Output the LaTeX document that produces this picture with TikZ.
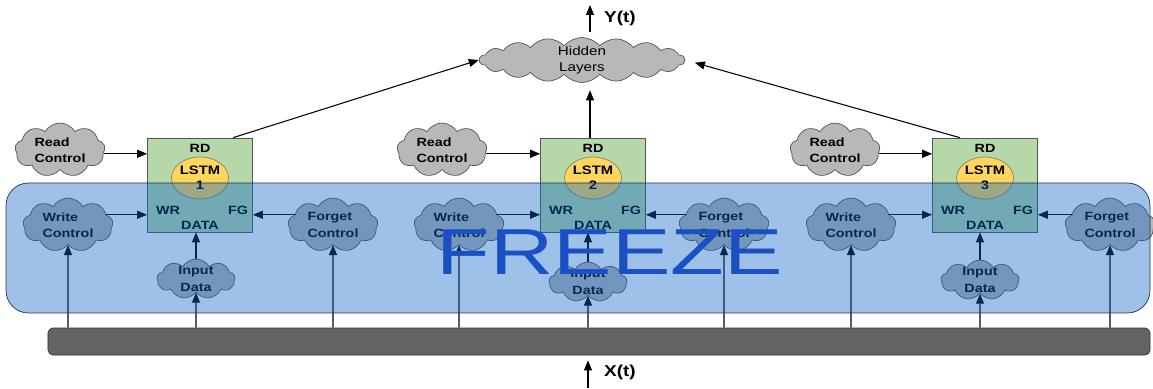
\documentclass[tikz,border=0pt]{standalone}
\usepackage{fontspec}
\setmainfont[FakeStretch=1.2]{Liberation Sans}
\newfontfamily\freezefont[FakeStretch=1.35]{Liberation Sans}
\usetikzlibrary{positioning,arrows.meta,calc,shapes.symbols,shapes.geometric}
\definecolor{CloudGray}{RGB}{184,184,184}
\definecolor{CloudEdge}{RGB}{85,85,85}
\definecolor{BoxGreen}{RGB}{182,215,168}
\definecolor{CoreYellow}{RGB}{255,214,92}
\definecolor{BusGray}{RGB}{100,100,100}
\definecolor{BandBlue}{RGB}{10,100,200}
\definecolor{BandEdge}{RGB}{40,50,70}
\definecolor{FreezeBlue}{RGB}{26,80,196}
\tikzset{
  flow/.style={-{Triangle[length=2mm,width=1.6mm]},semithick,draw=black},
  ctrl/.style={cloud,cloud puffs=9,cloud puff arc=120,cloud ignores aspect,
    draw=CloudEdge,fill=CloudGray,inner sep=-1pt,align=left,
    minimum width=1.8cm,minimum height=1.08cm,
    font=\fontsize{6.8}{9.2}\selectfont\bfseries},
  datacloud/.style={ctrl,align=center,inner sep=-3pt,
    minimum width=1.56cm,minimum height=0.8cm},
  hidden/.style={ctrl,align=center,cloud puffs=18,cloud puff arc=100,
    inner sep=-2pt,minimum width=4.1cm,minimum height=0.9cm,
    font=\fontsize{7.2}{9.4}\selectfont},
  lstmbox/.style={draw=CloudEdge,fill=BoxGreen,minimum width=2.1cm,
    minimum height=1.88cm},
  core/.style={ellipse,draw=gray,fill=CoreYellow,minimum width=1.14cm,
    minimum height=0.84cm,inner sep=0pt,align=center,
    font=\fontsize{7}{8.5}\selectfont\bfseries},
  tag/.style={inner sep=0pt,font=\fontsize{6.8}{8}\selectfont\bfseries},
  bus/.style={draw=black!80,fill=BusGray,rounded corners=1mm,
    minimum width=22.04cm,minimum height=0.54cm},
  band/.style={draw=BandEdge,fill=BandBlue,fill opacity=0.4,
    rounded corners=4.5mm},
  freeze/.style={inner sep=0pt,text=FreezeBlue,
    font=\freezefont\fontsize{37}{37}\selectfont},
  iolabel/.style={inner sep=0pt,font=\fontsize{9}{10}\selectfont\bfseries}
}
\begin{document}
\begin{tikzpicture}[x=0.2mm,y=-0.2mm]
  \useasboundingbox (0,0) rectangle (1153,389);

  % input bus
  \node[bus] (bus) at (599,341.5) {};
  \coordinate (xin) at (588,388);
  \node[iolabel] (xlab) at (620,372) {X(t)};
  \draw[flow,shorten >=1mm] (xin) -- (xin |- bus.south);

  % unit 1
  \node[lstmbox] (box1) at (200,185) {};
  \node[core] (core1) at (200,178) {LSTM\\1};
  \node[tag] (rd1) at (200,148) {RD};
  \node[tag] (wr1) at (168,210) {WR};
  \node[tag] (fg1) at (238,210) {FG};
  \node[tag] (data1) at (200,225) {DATA};
  \node[ctrl] (rc1) at (60,150) {Read\\Control};
  \node[ctrl] (wc1) at (68,225) {Write\\Control};
  \node[ctrl] (fc1) at (333,225) {Forget\\Control};
  \node[datacloud] (in1) at (196,279) {Input\\Data};
  \draw[flow] (rc1.-5) -- (rc1.-5 -| box1.west);
  \draw[flow] (wc1.15) -- (wc1.15 -| box1.west);
  \draw[flow] (fc1.165) -- (fc1.165 -| box1.east);
  \draw[flow] (in1.north) -- (in1.north |- box1.south);
  \draw[flow] (wc1 |- bus.north) -- (wc1.south);
  \draw[flow] (in1 |- bus.north) -- (in1.south);
  \draw[flow] (fc1 |- bus.north) -- (fc1.south);

  % unit 2
  \node[lstmbox] (box2) at (593,185) {};
  \node[core] (core2) at (593,178) {LSTM\\2};
  \node[tag] (rd2) at (593,148) {RD};
  \node[tag] (wr2) at (561,210) {WR};
  \node[tag] (fg2) at (631,210) {FG};
  \node[tag] (data2) at (593,225) {DATA};
  \node[ctrl] (rc2) at (442,150) {Read\\Control};
  \node[ctrl] (wc2) at (459,225) {Write\\Control};
  \node[ctrl] (fc2) at (724,225) {Forget\\Control};
  \node[datacloud] (in2) at (588,282) {Input\\Data};
  \draw[flow] (rc2.-5) -- (rc2.-5 -| box2.west);
  \draw[flow] (wc2.15) -- (wc2.15 -| box2.west);
  \draw[flow] (fc2.165) -- (fc2.165 -| box2.east);
  \draw[flow] (in2.north) -- (in2.north |- box2.south);
  \draw[flow] (wc2 |- bus.north) -- (wc2.south);
  \draw[flow] (in2 |- bus.north) -- (in2.south);
  \draw[flow] (fc2 |- bus.north) -- (fc2.south);

  % unit 3
  \node[lstmbox] (box3) at (985,185) {};
  \node[core] (core3) at (985,178) {LSTM\\3};
  \node[tag] (rd3) at (985,148) {RD};
  \node[tag] (wr3) at (953,210) {WR};
  \node[tag] (fg3) at (1023,210) {FG};
  \node[tag] (data3) at (985,225) {DATA};
  \node[ctrl] (rc3) at (835,150) {Read\\Control};
  \node[ctrl] (wc3) at (851,225) {Write\\Control};
  \node[ctrl] (fc3) at (1110,225) {Forget\\Control};
  \node[datacloud] (in3) at (980,280) {Input\\Data};
  \draw[flow] (rc3.-5) -- (rc3.-5 -| box3.west);
  \draw[flow] (wc3.15) -- (wc3.15 -| box3.west);
  \draw[flow] (fc3.165) -- (fc3.165 -| box3.east);
  \draw[flow] (in3.north) -- (in3.north |- box3.south);
  \draw[flow] (wc3 |- bus.north) -- (wc3.south);
  \draw[flow] (in3 |- bus.north) -- (in3.south);
  \draw[flow] (fc3 |- bus.north) -- (fc3.south);

  % frozen band
  \draw[band] (6,183) rectangle (1150,313);
  \node[freeze] (freeze) at (610,252) {FREEZE};

  % output side
  \node[hidden] (hidden) at (582,60) {Hidden\\Layers};
  \coordinate (yout) at (590,5);
  \node[iolabel] (ylab) at (620,18) {Y(t)};
  \draw[flow,shorten <=1mm] (hidden.north -| yout) -- (yout);
  \draw[flow] (box1.55) -- (hidden.west);
  \draw[flow,shorten >=1.5mm] (box2.north -| yout) -- (hidden.south -| yout);
  \draw[flow,shorten >=2mm] (box3.118) -- (hidden.east);
\end{tikzpicture}
\end{document}
